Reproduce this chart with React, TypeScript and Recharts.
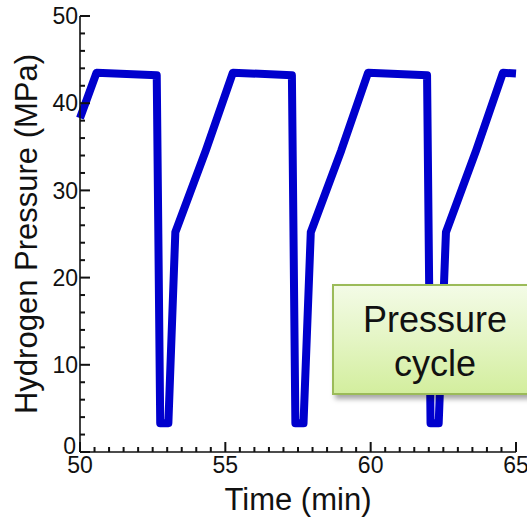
import React from 'react';
import { LineChart, Line, XAxis, YAxis } from 'recharts';

// time (min) and hydrogen pressure (MPa)
const timeMin = [
  50, 50.57, 52.64, 52.76, 53.04, 53.28, 54.33, 55.26,
  57.29, 57.41, 57.69, 57.94, 58.99, 59.91,
  61.94, 62.06, 62.34, 62.59, 63.63, 64.55, 65
];
const pressureMPa = [
  38.3, 43.5, 43.2, 3.3, 3.3, 25.2, 34.6, 43.5,
  43.2, 3.3, 3.3, 25.2, 34.6, 43.5,
  43.2, 3.3, 3.3, 25.2, 34.6, 43.5, 43.4
];

const xTicks = [
  50, 50.5, 51, 51.5, 52, 52.5, 53, 53.5, 54, 54.5, 55, 55.5, 56, 56.5, 57, 57.5,
  58, 58.5, 59, 59.5, 60, 60.5, 61, 61.5, 62, 62.5, 63, 63.5, 64, 64.5, 65
];
const yTicks = [
  0, 2, 4, 6, 8, 10, 12, 14, 16, 18, 20, 22, 24, 26, 28, 30, 32, 34, 36, 38, 40,
  42, 44, 46, 48, 50
];

const data = timeMin.map((t, i) => ({ t, p: pressureMPa[i] }));

const FONT = '"Liberation Sans", Arial, Helvetica, sans-serif';
const INK = '#111';
const TW = 2; // tick thickness
const axisStroke = { stroke: INK, strokeWidth: 1.6 };

// inward ticks drawn as thin rects (minor 5px, major 10px); tickSize=10 puts
// the passed x/y 10px outside the axis line
const OUT = 10;

const renderBottomTick = (props: any) => {
  const { x, y, payload } = props;
  const axisY = y - OUT;
  const len = payload.value % 5 === 0 ? 10 : 5;
  return (
    <g key={`b-${payload.value}`}>
      <rect x={x - TW / 2} y={axisY - len} width={TW} height={len} fill={INK} />
      {payload.value % 5 === 0 && (
        <text x={x} y={axisY + 21} textAnchor="middle" fontSize={23} fill={INK} fontFamily={FONT}>
          {payload.value}
        </text>
      )}
    </g>
  );
};

const renderTopTick = (props: any) => {
  const { x, y, payload } = props;
  const axisY = y + OUT;
  const len = payload.value % 5 === 0 ? 10 : 5;
  return (
    <g key={`t-${payload.value}`}>
      <rect x={x - TW / 2} y={axisY} width={TW} height={len} fill={INK} />
    </g>
  );
};

const renderLeftTick = (props: any) => {
  const { x, y, payload } = props;
  const axisX = x + OUT;
  const major = payload.value % 10 === 0;
  const len = major ? 10 : 5;
  return (
    <g key={`l-${payload.value}`}>
      <rect x={axisX} y={y - TW / 2} width={len} height={TW} fill={INK} />
      {major && (
        <text
          x={payload.value === 0 ? axisX - 4 : axisX - 2}
          y={payload.value === 0 ? y - 6 : y}
          dy="0.36em"
          textAnchor="end"
          fontSize={23}
          fill={INK}
          fontFamily={FONT}
        >
          {payload.value}
        </text>
      )}
    </g>
  );
};

const renderRightTick = (props: any) => {
  const { x, y, payload } = props;
  const axisX = x - OUT;
  const len = payload.value % 10 === 0 ? 10 : 5;
  return (
    <g key={`r-${payload.value}`}>
      <rect x={axisX - len} y={y - TW / 2} width={len} height={TW} fill={INK} />
    </g>
  );
};

export default function App() {
  return (
    <div style={{ position: 'relative', width: 527, height: 518, overflow: 'hidden', background: '#fff', fontFamily: FONT }}>
      <style>{`body{margin:0}`}</style>
      <LineChart width={527} height={518} data={data} margin={{ top: 16, right: 11, left: 0, bottom: 0 }}>
        <XAxis
          xAxisId="b"
          dataKey="t"
          type="number"
          domain={[50, 65]}
          ticks={xTicks}
          interval={0}
          height={66}
          tickSize={OUT}
          tickMargin={0}
          tickLine={false}
          tick={renderBottomTick}
          axisLine={axisStroke}
          label={{ value: 'Time (min)', position: 'insideBottom', offset: 8, fontSize: 31, fill: INK, fontFamily: FONT }}
        />
        <XAxis
          xAxisId="t"
          orientation="top"
          dataKey="t"
          type="number"
          domain={[50, 65]}
          ticks={xTicks}
          interval={0}
          height={0}
          tickSize={OUT}
          tickMargin={0}
          tickLine={false}
          tick={renderTopTick}
          axisLine={axisStroke}
        />
        <YAxis
          yAxisId="l"
          type="number"
          domain={[0, 50]}
          ticks={yTicks}
          interval={0}
          width={80}
          tickSize={OUT}
          tickMargin={0}
          tickLine={false}
          tick={renderLeftTick}
          axisLine={axisStroke}
          label={{
            value: 'Hydrogen Pressure (MPa)',
            angle: -90,
            position: 'insideLeft',
            offset: 26,
            fontSize: 31,
            fill: INK,
            fontFamily: FONT,
            style: { textAnchor: 'middle' }
          }}
        />
        <YAxis
          yAxisId="r"
          orientation="right"
          type="number"
          domain={[0, 50]}
          ticks={yTicks}
          interval={0}
          width={0}
          tickSize={OUT}
          tickMargin={0}
          tickLine={false}
          tick={renderRightTick}
          axisLine={axisStroke}
        />
        <Line
          xAxisId="b"
          yAxisId="l"
          type="linear"
          dataKey="p"
          stroke="#0000cd"
          strokeWidth={8}
          strokeLinejoin="round"
          dot={false}
          isAnimationActive={false}
        />
      </LineChart>
      <div
        style={{
          position: 'absolute',
          left: 332,
          top: 284,
          width: 206,
          height: 111,
          boxSizing: 'border-box',
          border: '2px solid #9bbb59',
          background: 'linear-gradient(to bottom, #f3fbe6 0%, #e4f5c4 50%, #d3ee9e 100%)',
          boxShadow: '3px 4px 5px rgba(0,0,0,0.35)',
          textAlign: 'center',
          fontSize: 36,
          lineHeight: '44px',
          color: '#111',
          paddingTop: 12
        }}
      >
        Pressure
        <br />
        cycle
      </div>
    </div>
  );
}
